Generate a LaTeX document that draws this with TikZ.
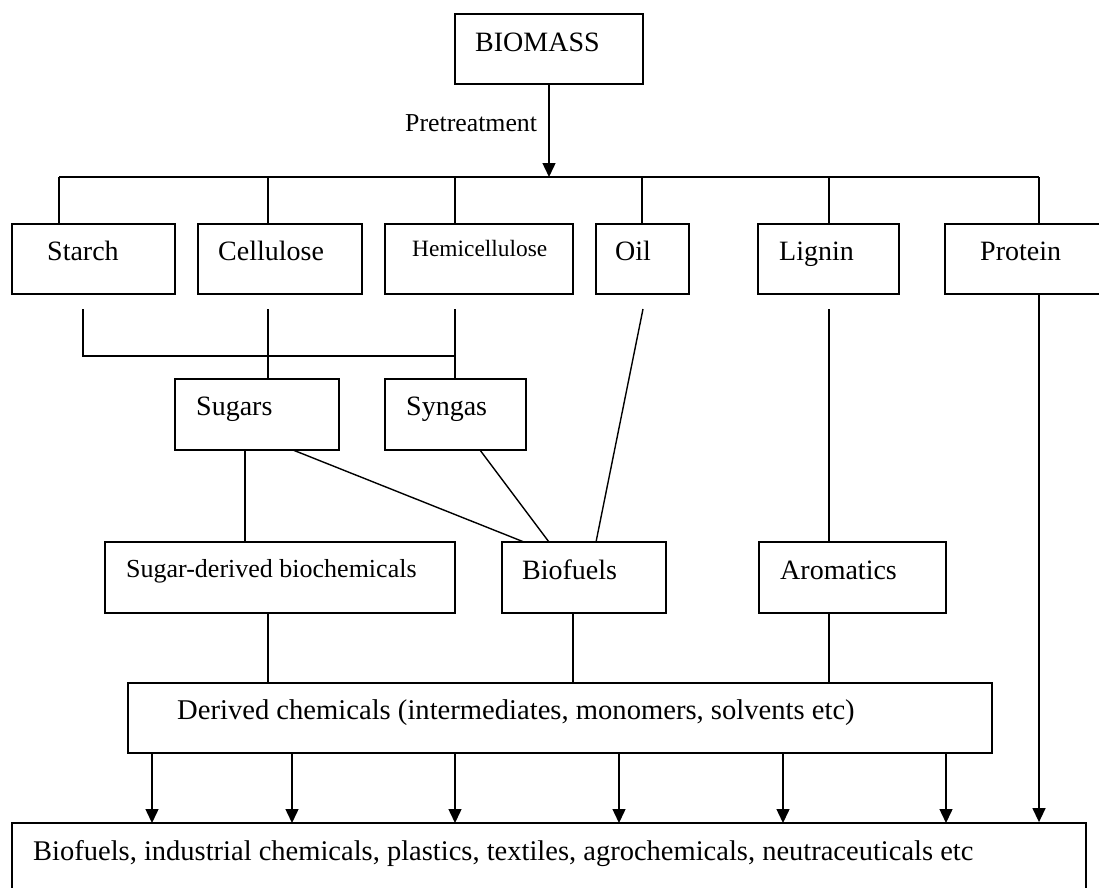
\documentclass[tikz,border=0pt]{standalone}
\usepackage{fontspec}
\setmainfont{Liberation Serif}
\usetikzlibrary{arrows.meta}
\tikzset{
  box/.style={draw, line width=1.8pt, inner sep=0pt, minimum height=70pt},
  lbl/.style={anchor=base west, inner sep=0pt, font=\fontsize{28}{32}\selectfont},
  link/.style={line width=1.4pt},
  arr/.style={line width=1.4pt, -{Triangle[length=14pt,width=13pt]}}
}
\begin{document}
\begin{tikzpicture}[x=1pt,y=-1pt]
\useasboundingbox (0,0) rectangle (1099,887);
\clip (0,0) rectangle (1099,887);
% boxes
\node[box, minimum width=188pt] (biomass) at (549,49) {};
\node[box, minimum width=163pt] (starch) at (93.5,259) {};
\node[box, minimum width=164pt] (cellulose) at (280,259) {};
\node[box, minimum width=188pt] (hemi) at (479,259) {};
\node[box, minimum width=93pt] (oil) at (642.5,259) {};
\node[box, minimum width=141pt] (lignin) at (828.5,259) {};
\node[box, minimum width=165pt] (protein) at (1027.5,259) {};
\node[box, minimum width=164pt, minimum height=71pt] (sugars) at (257,414.5) {};
\node[box, minimum width=141pt, minimum height=71pt] (syngas) at (455.5,414.5) {};
\node[box, minimum width=350pt, minimum height=71pt] (sugarder) at (280,577.5) {};
\node[box, minimum width=164pt, minimum height=71pt] (biofuels) at (584,577.5) {};
\node[box, minimum width=187pt, minimum height=71pt] (aromatics) at (852.5,577.5) {};
\node[box, minimum width=864pt] (derived) at (560,718) {};
\node[box, minimum width=1074pt, minimum height=77pt] (products) at (549,861.5) {};
% texts
\node[lbl] (tbiomass) at (475,51) {BIOMASS};
\node[lbl, font=\fontsize{25.8}{30}\selectfont] (tpre) at (405,131) {Pretreatment};
\node[lbl] (tstarch) at (47,260) {Starch};
\node[lbl] (tcell) at (218,260) {Cellulose};
\node[lbl, font=\fontsize{23.4}{27}\selectfont] (themi) at (412,256) {Hemicellulose};
\node[lbl] (toil) at (615,260) {Oil};
\node[lbl] (tlignin) at (779,260) {Lignin};
\node[lbl] (tprotein) at (980,260) {Protein};
\node[lbl] (tsugars) at (196,415) {Sugars};
\node[lbl] (tsyngas) at (406,415) {Syngas};
\node[lbl, font=\fontsize{26}{30}\selectfont] (tsugarder) at (126,577) {Sugar-derived biochemicals};
\node[lbl] (tbiofuels) at (522,579) {Biofuels};
\node[lbl] (taromatics) at (780,579) {Aromatics};
\node[lbl, font=\fontsize{28.6}{32}\selectfont] (tderived) at (177,719) {Derived chemicals (intermediates, monomers, solvents etc)};
\node[lbl, font=\fontsize{28.5}{32}\selectfont] (tproducts) at (33,860) {Biofuels, industrial chemicals, plastics, textiles, agrochemicals, neutraceuticals etc};
% top bus
\coordinate (busL) at (59,177);
\coordinate (busR) at (1039,177);
\draw[arr] (biomass.south) -- (biomass.south |- busL);
\draw[link] (busL) -- (busR);
\coordinate (d1) at (59,177);
\coordinate (d2) at (268,177);
\coordinate (d3) at (455,177);
\coordinate (d4) at (642,177);
\coordinate (d5) at (829,177);
\coordinate (d6) at (1039,177);
\draw[link] (d1) -- (d1 |- starch.north);
\draw[link] (d2) -- (d2 |- cellulose.north);
\draw[link] (d3) -- (d3 |- hemi.north);
\draw[link] (d4) -- (d4 |- oil.north);
\draw[link] (d5) -- (d5 |- lignin.north);
\draw[link] (d6) -- (d6 |- protein.north);
% below row 1
\coordinate (s1) at (83,309);
\coordinate (s2) at (268,309);
\coordinate (s3) at (455,309);
\coordinate (s4) at (643,309);
\coordinate (s5) at (829,309);
\coordinate (j1) at (83,356);
\coordinate (j2) at (455,356);
\draw[link] (s1) -- (j1) -- (j2);
\draw[link] (s2) -- (s2 |- sugars.north);
\draw[link] (s3) -- (s3 |- syngas.north);
\draw[link] (s4) -- (596,542);
\draw[link] (s5) -- (s5 |- aromatics.north);
\coordinate (pr) at (1039,294);
\draw[arr] (pr) -- (pr |- products.north);
% sugars / syngas to row 3
\draw[link] (245,450) -- (245,542);
\draw[link] (293,450) -- (524,542);
\draw[link] (480,450) -- (549,542);
% row 3 to derived
\draw[link] (268,613) -- (268,683);
\draw[link] (573,613) -- (573,683);
\draw[link] (829,613) -- (829,683);
% derived to products
\foreach \xx in {152,292,455,619,783,946}{
  \draw[arr] (\xx,753) -- (\xx,823);
}
\end{tikzpicture}
\end{document}
